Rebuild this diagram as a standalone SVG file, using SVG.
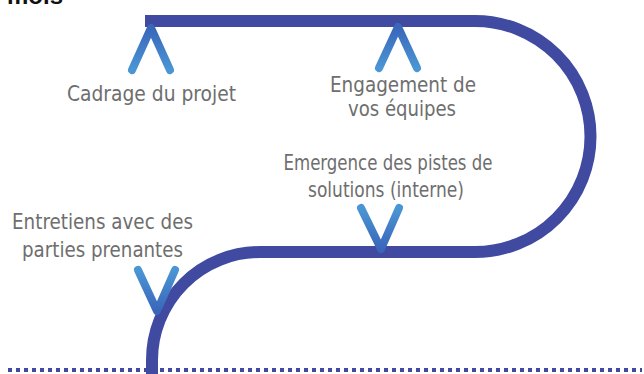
<svg xmlns="http://www.w3.org/2000/svg" width="644" height="374" viewBox="0 0 644 374">
<style>
.lbl{font-family:"DejaVu Sans Condensed","DejaVu Sans",sans-serif;font-stretch:condensed;font-size:21px;fill:#6e6e6e;text-anchor:middle}
.track{fill:none;stroke:#3f4aa0;stroke-width:12}
.dots{fill:none;stroke:#3f4aa0;stroke-width:4;stroke-dasharray:4 4}
.up{fill:none;stroke:url(#gUp);stroke-width:8;stroke-linecap:round;stroke-linejoin:round}
.down{fill:none;stroke:url(#gDown);stroke-width:8;stroke-linecap:round;stroke-linejoin:round}
</style>
<defs>
<linearGradient id="gUp" x1="0" y1="0" x2="0" y2="1">
<stop offset="0" stop-color="#3a66ba"/>
<stop offset="1" stop-color="#4a96d4"/>
</linearGradient>
<linearGradient id="gDown" x1="0" y1="0" x2="0" y2="1">
<stop offset="0" stop-color="#4a96d4"/>
<stop offset="1" stop-color="#3a66ba"/>
</linearGradient>
</defs>
<rect width="644" height="374" fill="#ffffff"/>
<text x="7" y="4" font-family="Liberation Sans,Arial,sans-serif" font-size="24" font-weight="bold" fill="#111111">mois</text>
<g id="connectors">
<line class="dots" x1="8" y1="370" x2="642" y2="370"/>
<path class="track" d="M145,21 H475 A115.5,115.5 0 0 1 475,252 H260 A108,108 0 0 0 152,360 V380"/>
</g>
<g id="n1">
<polyline class="up" points="132,70 151,28 170,70"/>
<text class="lbl" x="151.5" y="101" textLength="169" lengthAdjust="spacingAndGlyphs">Cadrage du projet</text>
</g>
<g id="n2">
<polyline class="up" points="379,68 398,27 417,68"/>
<text class="lbl" x="403" y="92" textLength="146" lengthAdjust="spacingAndGlyphs">Engagement de</text>
<text class="lbl" x="402" y="116" textLength="108" lengthAdjust="spacingAndGlyphs">vos équipes</text>
</g>
<g id="n3">
<polyline class="down" points="361,208 381,249 399,208"/>
<text class="lbl" x="388" y="170" textLength="209" lengthAdjust="spacingAndGlyphs">Emergence des pistes de</text>
<text class="lbl" x="386" y="197" textLength="156" lengthAdjust="spacingAndGlyphs">solutions (interne)</text>
</g>
<g id="n4">
<polyline class="down" points="138,270 157,311 175,270"/>
<text class="lbl" x="102.5" y="229" textLength="181" lengthAdjust="spacingAndGlyphs">Entretiens avec des</text>
<text class="lbl" x="102.5" y="257" textLength="161" lengthAdjust="spacingAndGlyphs">parties prenantes</text>
</g>
</svg>
